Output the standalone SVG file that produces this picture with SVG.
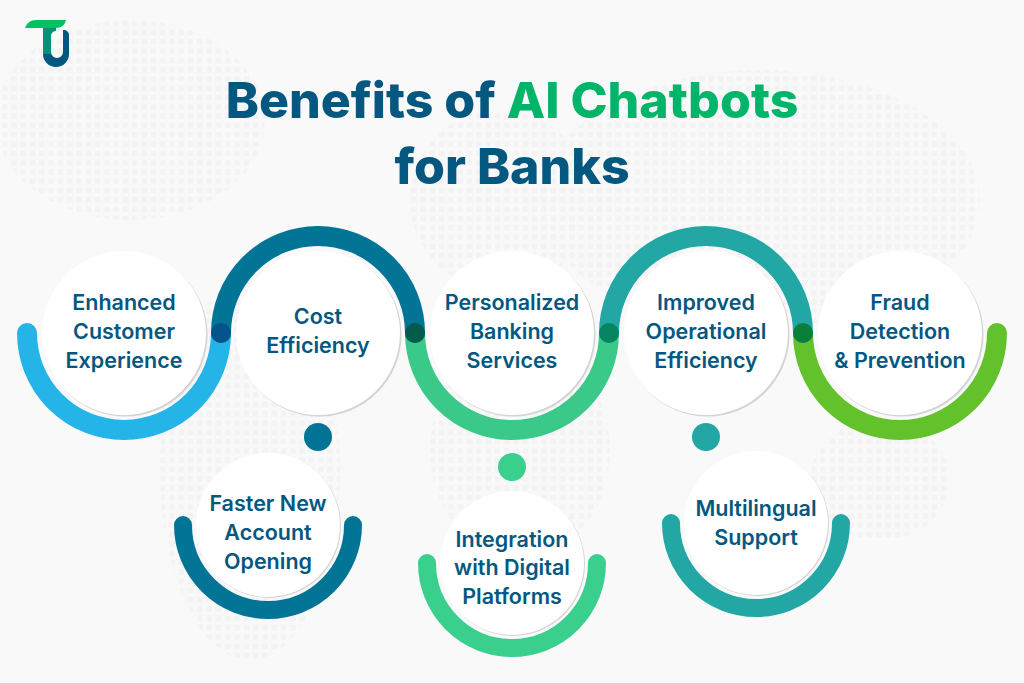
<svg xmlns="http://www.w3.org/2000/svg" width="1024" height="683" viewBox="0 0 1024 683">
<style>
.title{font-family:"Inter","Liberation Sans",sans-serif;font-weight:800;font-size:50px;text-anchor:middle;fill:#04577f}
.lbl{font-family:"Inter","Liberation Sans",sans-serif;font-weight:600;font-size:21.5px;text-anchor:middle;fill:#04577f}
.arc{fill:none;stroke-width:20;stroke-linecap:round}
.arc2{fill:none;stroke-width:18;stroke-linecap:round}
.shade{fill:#d4d4d6}
.face{fill:#fff}
</style>
<defs>
<pattern id="dots" width="9.3" height="9.3" patternUnits="userSpaceOnUse"><circle cx="4.6" cy="4.6" r="3.1" fill="#f3f3f4"/></pattern>
</defs>
<rect width="1024" height="683" fill="#f9f9fa"/>
<g id="map" fill="url(#dots)">
<ellipse cx="130" cy="120" rx="135" ry="100"/>
<ellipse cx="250" cy="470" rx="90" ry="190"/>
<ellipse cx="500" cy="200" rx="90" ry="90"/>
<ellipse cx="520" cy="450" rx="90" ry="110"/>
<ellipse cx="760" cy="200" rx="220" ry="130"/>
<ellipse cx="880" cy="480" rx="70" ry="60"/>
</g>
<g id="logo">
<path d="M43 30h8v22a6 6 0 0 0 12 0V30h1a5 5 0 0 1 5 5v19a13 13 0 0 1-26 0z" fill="#04577f"/>
<path d="M43 28h13v3a5 5 0 0 0-5 5v18h-8z" fill="#07917a"/>
<path d="M25 28c2-5 5-8 11-8h30c-1 5-5 8-10 8z" fill="#00c261"/>
</g>
<g id="title">
<text class="title" x="512" y="118"><tspan>Benefits of </tspan><tspan fill="#00b56a">AI Chatbots</tspan></text>
<text class="title" x="512" y="184">for Banks</text>
</g>
<g id="connectors">
<path class="arc" d="M27 333A97 97 0 0 0 221 333" stroke="#24b4e8"/>
<path class="arc" d="M415 333A97 97 0 0 0 609 333" stroke="#3bc98a"/>
<path class="arc" d="M803 333A97 97 0 0 0 997 333" stroke="#63c22c"/>
<path class="arc" d="M221 333A97 97 0 0 1 415 333" stroke="#027596"/>
<path class="arc" d="M609 333A97 97 0 0 1 803 333" stroke="#22a7a5"/>
<circle cx="221" cy="333" r="10" fill="#03548a"/>
<circle cx="415" cy="333" r="10" fill="#035c4a"/>
<circle cx="609" cy="333" r="10" fill="#078560"/>
<circle cx="803" cy="333" r="10" fill="#0a7f3a"/>
<circle cx="318" cy="437" r="14" fill="#027596"/>
<circle cx="512" cy="467" r="14" fill="#3bcf8e"/>
<circle cx="706" cy="437" r="14" fill="#22a7a5"/>
<path class="arc2" d="M183 525A85 85 0 0 0 353 525" stroke="#027596"/>
<path class="arc2" d="M427 563A85 85 0 0 0 597 563" stroke="#3bcf8e"/>
<path class="arc2" d="M671 523A85 85 0 0 0 841 523" stroke="#22a7a5"/>
</g>
<g id="n1"><circle class="shade" cx="125.500" cy="334.500" r="82"/><circle class="face" cx="124" cy="333" r="82"/><text class="lbl" x="124" y="310">Enhanced</text><text class="lbl" x="124" y="339">Customer</text><text class="lbl" x="124" y="368">Experience</text></g>
<g id="n2"><circle class="shade" cx="319.500" cy="334.500" r="82"/><circle class="face" cx="318" cy="333" r="82"/><text class="lbl" x="318" y="324">Cost</text><text class="lbl" x="318" y="353">Efficiency</text></g>
<g id="n3"><circle class="shade" cx="513.500" cy="334.500" r="82"/><circle class="face" cx="512" cy="333" r="82"/><text class="lbl" x="512" y="310">Personalized</text><text class="lbl" x="512" y="339">Banking</text><text class="lbl" x="512" y="368">Services</text></g>
<g id="n4"><circle class="shade" cx="707.500" cy="334.500" r="82"/><circle class="face" cx="706" cy="333" r="82"/><text class="lbl" x="706" y="310">Improved</text><text class="lbl" x="706" y="339">Operational</text><text class="lbl" x="706" y="368">Efficiency</text></g>
<g id="n5"><circle class="shade" cx="901.500" cy="334.500" r="82"/><circle class="face" cx="900" cy="333" r="82"/><text class="lbl" x="900" y="310">Fraud</text><text class="lbl" x="900" y="339">Detection</text><text class="lbl" x="900" y="368">&amp; Prevention</text></g>
<g id="n6"><circle class="shade" cx="269" cy="526" r="72"/><circle class="face" cx="268" cy="525" r="72"/><text class="lbl" x="268" y="511">Faster New</text><text class="lbl" x="268" y="540">Account</text><text class="lbl" x="268" y="569">Opening</text></g>
<g id="n7"><circle class="shade" cx="513" cy="564" r="72"/><circle class="face" cx="512" cy="563" r="72"/><text class="lbl" x="512" y="547">Integration</text><text class="lbl" x="512" y="575">with Digital</text><text class="lbl" x="512" y="604">Platforms</text></g>
<g id="n8"><circle class="shade" cx="757" cy="524" r="72"/><circle class="face" cx="756" cy="523" r="72"/><text class="lbl" x="756" y="516">Multilingual</text><text class="lbl" x="756" y="545">Support</text></g>
</svg>
